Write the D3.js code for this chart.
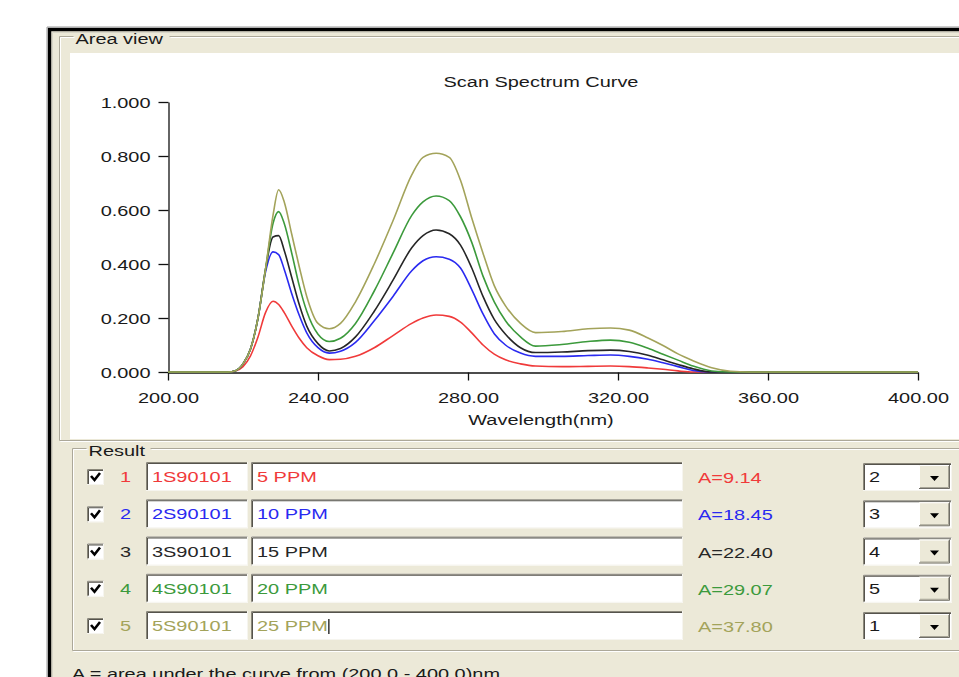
<!DOCTYPE html>
<html>
<head>
<meta charset="utf-8">
<script src="https://cdn.jsdelivr.net/npm/d3@7"></script>
<style>
  html, body { margin: 0; padding: 0; background: #ffffff; }
  svg { display: block; }
  text { font-family: "Liberation Sans", Arial, sans-serif; }
</style>
</head>
<body>
<svg id="chart" width="959" height="677"></svg>
<script>
// Wavelength grid (nm) and absorbance of the five standards
const wavelengths = [200,216,218,220,222,224,226,228,229.5,231,233,235,237,240,243,246,250,255,260,265,268,271.5,275,278,281,284,287,290,294,298,305,312,318,323,328,332,336,340,345,350,355,400];
const abs5ppm  = [0,0,0.004,0.02,0.06,0.13,0.22,0.262,0.25,0.22,0.17,0.125,0.09,0.06,0.046,0.047,0.058,0.09,0.135,0.18,0.2,0.211,0.206,0.185,0.145,0.10,0.066,0.045,0.03,0.022,0.02,0.021,0.022,0.02,0.015,0.01,0.004,0,0,0,0,0];
const abs10ppm = [0,0,0.005,0.03,0.085,0.20,0.37,0.445,0.435,0.38,0.29,0.21,0.145,0.09,0.07,0.077,0.11,0.19,0.28,0.375,0.412,0.427,0.418,0.385,0.305,0.215,0.142,0.10,0.07,0.058,0.058,0.061,0.063,0.058,0.047,0.034,0.02,0.006,0,0,0,0];
const abs15ppm = [0,0,0.005,0.03,0.085,0.20,0.38,0.50,0.505,0.45,0.35,0.25,0.17,0.105,0.078,0.087,0.13,0.225,0.34,0.46,0.505,0.526,0.512,0.47,0.385,0.28,0.195,0.14,0.09,0.072,0.074,0.079,0.081,0.076,0.062,0.045,0.028,0.012,0,0,0,0];
const abs20ppm = [0,0,0.005,0.03,0.085,0.20,0.38,0.55,0.594,0.55,0.44,0.32,0.225,0.14,0.113,0.125,0.18,0.30,0.44,0.58,0.63,0.652,0.635,0.575,0.48,0.355,0.26,0.19,0.13,0.096,0.102,0.113,0.118,0.11,0.088,0.066,0.044,0.022,0.004,0,0,0];
const abs25ppm = [0,0,0.005,0.03,0.085,0.20,0.38,0.58,0.675,0.63,0.51,0.39,0.28,0.18,0.16,0.18,0.26,0.40,0.56,0.73,0.795,0.81,0.795,0.71,0.57,0.44,0.32,0.245,0.18,0.146,0.15,0.16,0.163,0.155,0.126,0.098,0.067,0.042,0.016,0.003,0,0];

// Result table
const rowNumbers = ["1","2","3","4","5"];
const sampleIds  = ["1S90101","2S90101","3S90101","4S90101","5S90101"];
const sampleNames = ["5 PPM","10 PPM","15 PPM","20 PPM","25 PPM"];
const areaValues = [9.14, 18.45, 22.40, 29.07, 37.80];
const orderValues = ["2","3","4","5","1"];
const seriesColors = ["#f03a3a","#2a2af0","#262626","#3c9a3c","#a3a35a"];

// Axis ticks
const xTicks = [200,240,280,320,360,400];
const yTicks = [0,0.2,0.4,0.6,0.8,1.0];

const series = [abs5ppm, abs10ppm, abs15ppm, abs20ppm, abs25ppm];

const svg = d3.select("#chart");
const SX = 1.33; // horizontal glyph stretch of the dialog font
const FACE = "#ece9d8";

function label(g, x, y, s, color, anchor, size) {
  return g.append("text")
    .attr("transform", `translate(${x},${y}) scale(${SX},1)`)
    .attr("text-anchor", anchor || "start")
    .attr("font-size", size || 15)
    .attr("fill", color || "#1a1a1a")
    .text(s);
}

// ---------- window frame ----------
svg.append("rect").attr("x", 0).attr("y", 0).attr("width", 959).attr("height", 677).attr("fill", "#fff");
svg.append("rect").attr("x", 51).attr("y", 31).attr("width", 920).attr("height", 660).attr("fill", FACE);
svg.append("path").attr("d", "M49.5,690 V29.5 H970").attr("fill", "none").attr("stroke", "#000").attr("stroke-width", 3.5);
svg.append("path").attr("d", "M47,690 V27 H970").attr("fill", "none").attr("stroke", "#999").attr("stroke-width", 1);
svg.append("path").attr("d", "M52.5,690 V32.5 H970").attr("fill", "none").attr("stroke", "#d8d6c8").attr("stroke-width", 1);

// etched group box
function groupBox(x, y, w, h, title, tw) {
  const d = `M${x + 14},${y} H${x} V${y + h} H${x + w} V${y} H${x + 18 + tw}`;
  svg.append("path").attr("d", d).attr("fill", "none").attr("stroke", "#ffffff").attr("stroke-width", 1).attr("transform", "translate(1,1)");
  svg.append("path").attr("d", d).attr("fill", "none").attr("stroke", "#aca899").attr("stroke-width", 1);
  label(svg, x + 16, y + 7, title, "#1a1a1a");
}
groupBox(59.5, 36.5, 960, 404, "Area view", 92);

// white plotting panel
svg.append("rect").attr("x", 70).attr("y", 53).attr("width", 900).attr("height", 386).attr("fill", "#ffffff");

// ---------- spectrum plot ----------
const x = d3.scaleLinear().domain([200, 400]).range([168, 918]);
const y = d3.scaleLinear().domain([0, 1]).range([372, 102]);

label(svg, 541, 87, "Scan Spectrum Curve", "#1a1a1a", "middle");

const yAxis = svg.append("g").attr("transform", "translate(168.5,0)")
  .call(d3.axisLeft(y).tickValues(yTicks).tickFormat(d3.format(".3f")).tickSize(10).tickSizeOuter(0));
const xAxis = svg.append("g").attr("transform", "translate(0,372.5)")
  .call(d3.axisBottom(x).tickValues(xTicks).tickFormat(d3.format(".2f")).tickSize(8).tickSizeOuter(0));

[yAxis, xAxis].forEach(a => {
  a.select(".domain").attr("stroke", "#111").attr("stroke-width", 1.3);
  a.selectAll(".tick line").attr("stroke", "#111").attr("stroke-width", 1.3);
  a.selectAll(".tick text").attr("font-family", "Liberation Sans, Arial, sans-serif").attr("font-size", 15).attr("fill", "#1a1a1a");
});
yAxis.selectAll(".tick text").attr("x", null).attr("dy", null)
  .attr("transform", `translate(-18,5) scale(${SX},1)`);
xAxis.selectAll(".tick text").attr("y", null).attr("dy", null)
  .attr("transform", `translate(0,30) scale(${SX},1)`);

label(svg, 541, 425, "Wavelength(nm)", "#1a1a1a", "middle");

const line = d3.line()
  .x((d, i) => x(wavelengths[i]))
  .y(d => y(d))
  .curve(d3.curveMonotoneX);

svg.append("g").selectAll("path.spec").data(series).join("path")
  .attr("class", "spec")
  .attr("d", line)
  .attr("fill", "none")
  .attr("stroke", (d, i) => seriesColors[i])
  .attr("stroke-width", 1.6)
  .attr("stroke-linejoin", "round");

// ---------- result panel ----------
groupBox(72.5, 448.5, 900, 202, "Result", 60);

function sunken(x0, y0, w, h) {
  svg.append("rect").attr("x", x0).attr("y", y0).attr("width", w).attr("height", h).attr("fill", "#ffffff");
  svg.append("path").attr("d", `M${x0 + 0.5},${y0 + h} V${y0 + 0.5} H${x0 + w}`).attr("fill", "none").attr("stroke", "#8a877a").attr("stroke-width", 1);
  svg.append("path").attr("d", `M${x0 + 1.5},${y0 + h - 1} V${y0 + 1.5} H${x0 + w - 1}`).attr("fill", "none").attr("stroke", "#55534c").attr("stroke-width", 1);
  svg.append("path").attr("d", `M${x0},${y0 + h - 0.5} H${x0 + w - 0.5} V${y0}`).attr("fill", "none").attr("stroke", "#f6f5ef").attr("stroke-width", 1);
}

const rowY = d3.scaleLinear().domain([0, 4]).range([477, 626]);

rowNumbers.forEach((n, i) => {
  const cy = rowY(i);
  const col = seriesColors[i];
  // check box
  sunken(87, cy - 8, 17, 16);
  svg.append("path").attr("d", `M${91},${cy - 1} L${94.5},${cy + 3} L${100},${cy - 4}`)
    .attr("fill", "none").attr("stroke", "#000").attr("stroke-width", 2.6);
  label(svg, 120, cy + 5, n, col);
  // id and name edit boxes
  sunken(146, cy - 15, 102, 29);
  label(svg, 152, cy + 5, sampleIds[i], col);
  sunken(251, cy - 15, 432, 29);
  const nt = label(svg, 257, cy + 5, sampleNames[i], col);
  if (i === rowNumbers.length - 1) {
    const w = nt.node().getComputedTextLength() * SX;
    svg.append("line").attr("x1", 258 + w).attr("x2", 258 + w).attr("y1", cy - 7).attr("y2", cy + 8)
      .attr("stroke", "#000").attr("stroke-width", 1.2);
  }
  // area value
  label(svg, 698, cy + 6, "A=" + d3.format(".2f")(areaValues[i]), col);
  // order combo box
  sunken(863, cy - 14, 89, 28);
  label(svg, 869, cy + 5, orderValues[i], "#1a1a1a");
  const bx = 919, by = cy - 12, bw = 31, bh = 24;
  svg.append("rect").attr("x", bx).attr("y", by).attr("width", bw).attr("height", bh).attr("fill", FACE);
  svg.append("path").attr("d", `M${bx + 0.5},${by + bh} V${by + 0.5} H${bx + bw}`).attr("fill", "none").attr("stroke", "#ffffff");
  svg.append("path").attr("d", `M${bx},${by + bh - 0.5} H${bx + bw - 0.5} V${by}`).attr("fill", "none").attr("stroke", "#6f6d66");
  svg.append("path").attr("d", `M${bx + 1},${by + bh - 1.5} H${bx + bw - 1.5} V${by + 1}`).attr("fill", "none").attr("stroke", "#a7a496");
  svg.append("path").attr("d", `M${bx + 11},${cy - 1} H${bx + 20} L${bx + 15.5},${cy + 4} Z`).attr("fill", "#000");
});

label(svg, 72, 679, "A = area under the curve from (200.0 - 400.0)nm", "#1a1a1a");
</script>
</body>
</html>
